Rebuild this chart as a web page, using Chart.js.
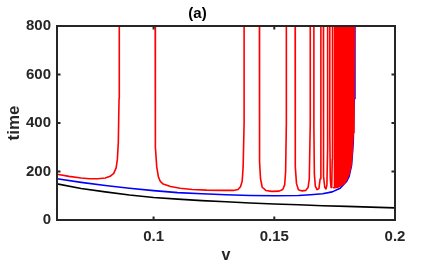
<!DOCTYPE html>
<html>
<head>
<meta charset="UTF-8">
<title>(a)</title>
<script src="https://cdn.jsdelivr.net/npm/chart.js"></script>
<style>
  html,body{margin:0;padding:0;background:#fff}
  #wrap{width:436px;height:267px}
</style>
</head>
<body>
<div id="wrap"><canvas id="chart" width="436" height="267"></canvas></div>
<script>
// lower curve (black)
const blackV=[0.06,0.07,0.08,0.09,0.10,0.11,0.12,0.13,0.14,0.15,0.16,0.17,0.18,0.19,0.20];
const blackT=[149,130,116,103,93,86,80,75,70,66,63,59,56,53,50];

// middle curve (blue)
const blueV=[0.06,0.07,0.08,0.09,0.10,0.11,0.12,0.13,0.14,0.15,0.16,0.165,0.17,0.174,0.1773,0.18,0.181,0.182,0.1827,0.1831,0.1834,0.1836];
const blueT=[170,155,142,131,121,113,108,104,101,100,101,104,108,116,131,160,180,225,320,500,800,1000];

// red curve, one array per branch between blow-ups
const redV1=[0.06,0.065,0.07,0.0735,0.077,0.08,0.082,0.0835,0.0845,0.085,0.0854,0.0857,0.0858];
const redT1=[189,180,173,170,170,173,180,192,215,250,320,500,1200];
const redV2=[0.1006,0.1006,0.1009,0.1013,0.102,0.1028,0.104,0.107,0.111,0.116,0.122,0.128,0.133,0.135,0.136,0.1367,0.1371,0.1375,0.1375];
const redT2=[1200,500,300,220,178,159,148,138,131,126,123,122,122,126,137,160,220,400,1200];
const redV3=[0.1438,0.1438,0.144,0.1443,0.145,0.1465,0.149,0.152,0.1535,0.1543,0.1547,0.155,0.155];
const redT3=[1200,450,240,170,135,122,118,119,126,145,200,400,1200];
const redV4=[0.1586,0.1586,0.1588,0.1592,0.16,0.1615,0.163,0.164,0.1645,0.1649,0.1649];
const redT4=[1200,400,220,150,125,120,122,134,170,400,1200];
const redV5=[0.1664,0.1664,0.1666,0.167,0.1677,0.1685,0.169,0.1693,0.1693];
const redT5=[1200,380,190,140,125,130,170,380,1200];
const redV6=[0.1703,0.1703,0.1705,0.1709,0.1714,0.1718,0.1721,0.1721];
const redT6=[1200,380,180,135,128,145,300,1200];
const redV7=[0.173,0.173,0.1732,0.1735,0.1738,0.174,0.1741];
const redT7=[1200,350,170,134,140,250,1200];
// dense band of branches near the end, lower edge
const denseV=[0.1745,0.176,0.1773,0.179,0.18,0.181,0.1818,0.1823,0.1827,0.183,0.1832];
const denseT=[133,134,140,150,168,190,225,280,360,520,800];

const xTicks=[0.1,0.15,0.2];
const yTicks=[0,200,400,600,800];

const pts=(v,t)=>v.map((x,i)=>({x:x,y:t[i]}));
const line=(v,t,color,order)=>({data:pts(v,t),borderColor:color,borderWidth:1.6,pointRadius:0,tension:0,fill:false,
  borderJoinStyle:'round',borderCapStyle:'round',order:order});

const datasets=[
  line(blackV,blackT,'#000000',3),
  line(blueV,blueT,'#0000ff',2),
  line(redV1,redT1,'#ff0000',1),
  line(redV2,redT2,'#ff0000',1),
  line(redV3,redT3,'#ff0000',1),
  line(redV4,redT4,'#ff0000',1),
  line(redV5,redT5,'#ff0000',1),
  line(redV6,redT6,'#ff0000',1),
  line(redV7,redT7,'#ff0000',1),
  Object.assign(line(denseV,denseT,'#ff0000',1),{fill:'end',backgroundColor:'#ff0000'})
];

const axisColor='#262626';
const boxPlugin={
  id:'box',
  afterDraw(c){
    const {ctx,chartArea:a,scales:{x,y}}=c;
    ctx.save();
    ctx.strokeStyle=axisColor;
    ctx.lineWidth=2;
    ctx.beginPath();
    xTicks.forEach(v=>{
      const px=x.getPixelForValue(v);
      ctx.moveTo(px,a.bottom);ctx.lineTo(px,a.bottom-3.5);
      ctx.moveTo(px,a.top);ctx.lineTo(px,a.top+3.5);
    });
    yTicks.forEach(v=>{
      const py=y.getPixelForValue(v);
      ctx.moveTo(a.left,py);ctx.lineTo(a.left+3.5,py);
      ctx.moveTo(a.right,py);ctx.lineTo(a.right-3.5,py);
    });
    ctx.stroke();
    ctx.strokeRect(a.left,a.top,a.right-a.left,a.bottom-a.top);
    ctx.restore();
  }
};

const tickFont={family:'"Liberation Sans", Arial, sans-serif',size:15,weight:'bold'};

new Chart(document.getElementById('chart'),{
  type:'line',
  data:{datasets},
  options:{
    responsive:false,
    animation:false,
    layout:{padding:{left:0,right:41,top:0,bottom:0}},
    plugins:{
      legend:{display:false},
      tooltip:{enabled:false},
      title:{display:true,text:'(a)',color:'#000',font:{family:tickFont.family,size:15,weight:'bold'},padding:{top:5,bottom:3}}
    },
    scales:{
      x:{
        type:'linear',min:0.06,max:0.2,
        afterBuildTicks:s=>{s.ticks=xTicks.map(v=>({value:v}));},
        afterFit:s=>{s.height=47;},
        grid:{display:false,drawTicks:false},
        border:{display:false},
        ticks:{font:tickFont,color:axisColor,padding:8,maxRotation:0,autoSkip:false,callback:v=>String(v)},
        title:{display:true,text:'v',color:axisColor,font:{family:tickFont.family,size:16,weight:'bold'},padding:{top:0,bottom:1.5}}
      },
      y:{
        type:'linear',min:0,max:800,
        afterBuildTicks:s=>{s.ticks=yTicks.map(v=>({value:v}));},
        afterFit:s=>{s.width=57;},
        grid:{display:false,drawTicks:false},
        border:{display:false},
        ticks:{font:tickFont,color:axisColor,padding:6},
        title:{display:true,text:'time',color:axisColor,font:{family:tickFont.family,size:17,weight:'bold'},padding:{top:4.5,bottom:0}}
      }
    }
  },
  plugins:[boxPlugin]
});
</script>
</body>
</html>
